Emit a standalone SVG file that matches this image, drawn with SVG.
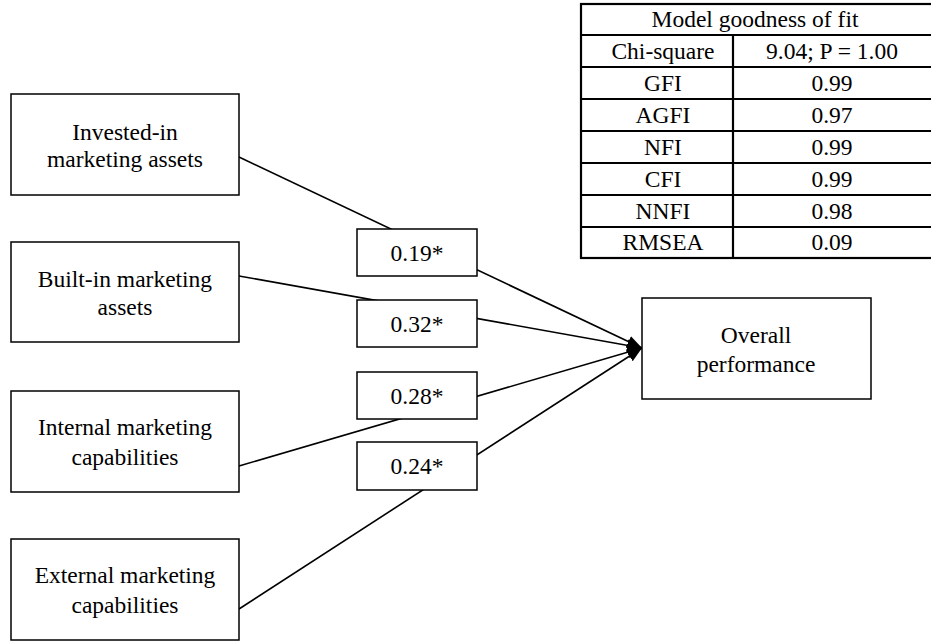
<svg xmlns="http://www.w3.org/2000/svg" width="931" height="643" viewBox="0 0 931 643">
<defs>
<style>
.box{fill:#fff;stroke:#000;stroke-width:1.5}
.t{font-family:"Liberation Serif","Times New Roman",serif;font-size:23.5px;fill:#000;text-anchor:middle}
.ln{stroke:#000;stroke-width:1.6;fill:none}
.tl{stroke:#000;stroke-width:2.2;fill:none}
</style>
<marker id="ah" markerUnits="userSpaceOnUse" markerWidth="20" markerHeight="20" refX="15" refY="7" orient="auto">
<path d="M0,1 L15,7 L0,13 z" fill="#000"/>
</marker>
</defs>
<rect width="931" height="643" fill="#fff"/>
<g id="connectors">
<line class="ln" x1="239" y1="157" x2="642" y2="348" marker-end="url(#ah)"/>
<line class="ln" x1="239" y1="276" x2="642" y2="348" marker-end="url(#ah)"/>
<line class="ln" x1="239" y1="466" x2="642" y2="348" marker-end="url(#ah)"/>
<line class="ln" x1="239" y1="609" x2="642" y2="348" marker-end="url(#ah)"/>
</g>
<g id="invested">
<rect class="box" x="11" y="94" width="228" height="101"/>
<text class="t" x="125" y="140">Invested-in</text>
<text class="t" x="125" y="167">marketing assets</text>
</g>
<g id="builtin">
<rect class="box" x="11" y="242" width="228" height="100"/>
<text class="t" x="125" y="287">Built-in marketing</text>
<text class="t" x="125" y="315">assets</text>
</g>
<g id="internal">
<rect class="box" x="11" y="391" width="228" height="101"/>
<text class="t" x="125" y="435">Internal marketing</text>
<text class="t" x="125" y="465">capabilities</text>
</g>
<g id="external">
<rect class="box" x="11" y="539" width="228" height="101"/>
<text class="t" x="125" y="583">External marketing</text>
<text class="t" x="125" y="613">capabilities</text>
</g>
<g id="coef1">
<rect class="box" x="357" y="229" width="120" height="47"/>
<text class="t" x="417" y="261">0.19*</text>
</g>
<g id="coef2">
<rect class="box" x="357" y="300" width="120" height="47"/>
<text class="t" x="417" y="332">0.32*</text>
</g>
<g id="coef3">
<rect class="box" x="357" y="372" width="120" height="47"/>
<text class="t" x="417" y="404">0.28*</text>
</g>
<g id="coef4">
<rect class="box" x="357" y="442" width="120" height="48"/>
<text class="t" x="417" y="474">0.24*</text>
</g>
<g id="overall">
<rect class="box" x="642" y="298" width="229" height="101"/>
<text class="t" x="756" y="343">Overall</text>
<text class="t" x="756" y="372">performance</text>
</g>
<g id="fit-table">
<rect class="tl" x="581" y="4" width="352" height="254"/>
<line class="tl" x1="581" y1="35" x2="933" y2="35"/>
<line class="tl" x1="581" y1="67" x2="933" y2="67"/>
<line class="tl" x1="581" y1="99" x2="933" y2="99"/>
<line class="tl" x1="581" y1="131" x2="933" y2="131"/>
<line class="tl" x1="581" y1="163" x2="933" y2="163"/>
<line class="tl" x1="581" y1="195" x2="933" y2="195"/>
<line class="tl" x1="581" y1="227" x2="933" y2="227"/>
<line class="tl" x1="733" y1="35" x2="733" y2="258"/>
<text class="t" x="755" y="27">Model goodness of fit</text>
<text class="t" x="663" y="59">Chi-square</text>
<text class="t" x="832" y="59">9.04; P = 1.00</text>
<text class="t" x="663" y="91">GFI</text>
<text class="t" x="832" y="91">0.99</text>
<text class="t" x="663" y="123">AGFI</text>
<text class="t" x="832" y="123">0.97</text>
<text class="t" x="663" y="155">NFI</text>
<text class="t" x="832" y="155">0.99</text>
<text class="t" x="663" y="187">CFI</text>
<text class="t" x="832" y="187">0.99</text>
<text class="t" x="663" y="219">NNFI</text>
<text class="t" x="832" y="219">0.98</text>
<text class="t" x="663" y="250">RMSEA</text>
<text class="t" x="832" y="250">0.09</text>
</g>
</svg>
